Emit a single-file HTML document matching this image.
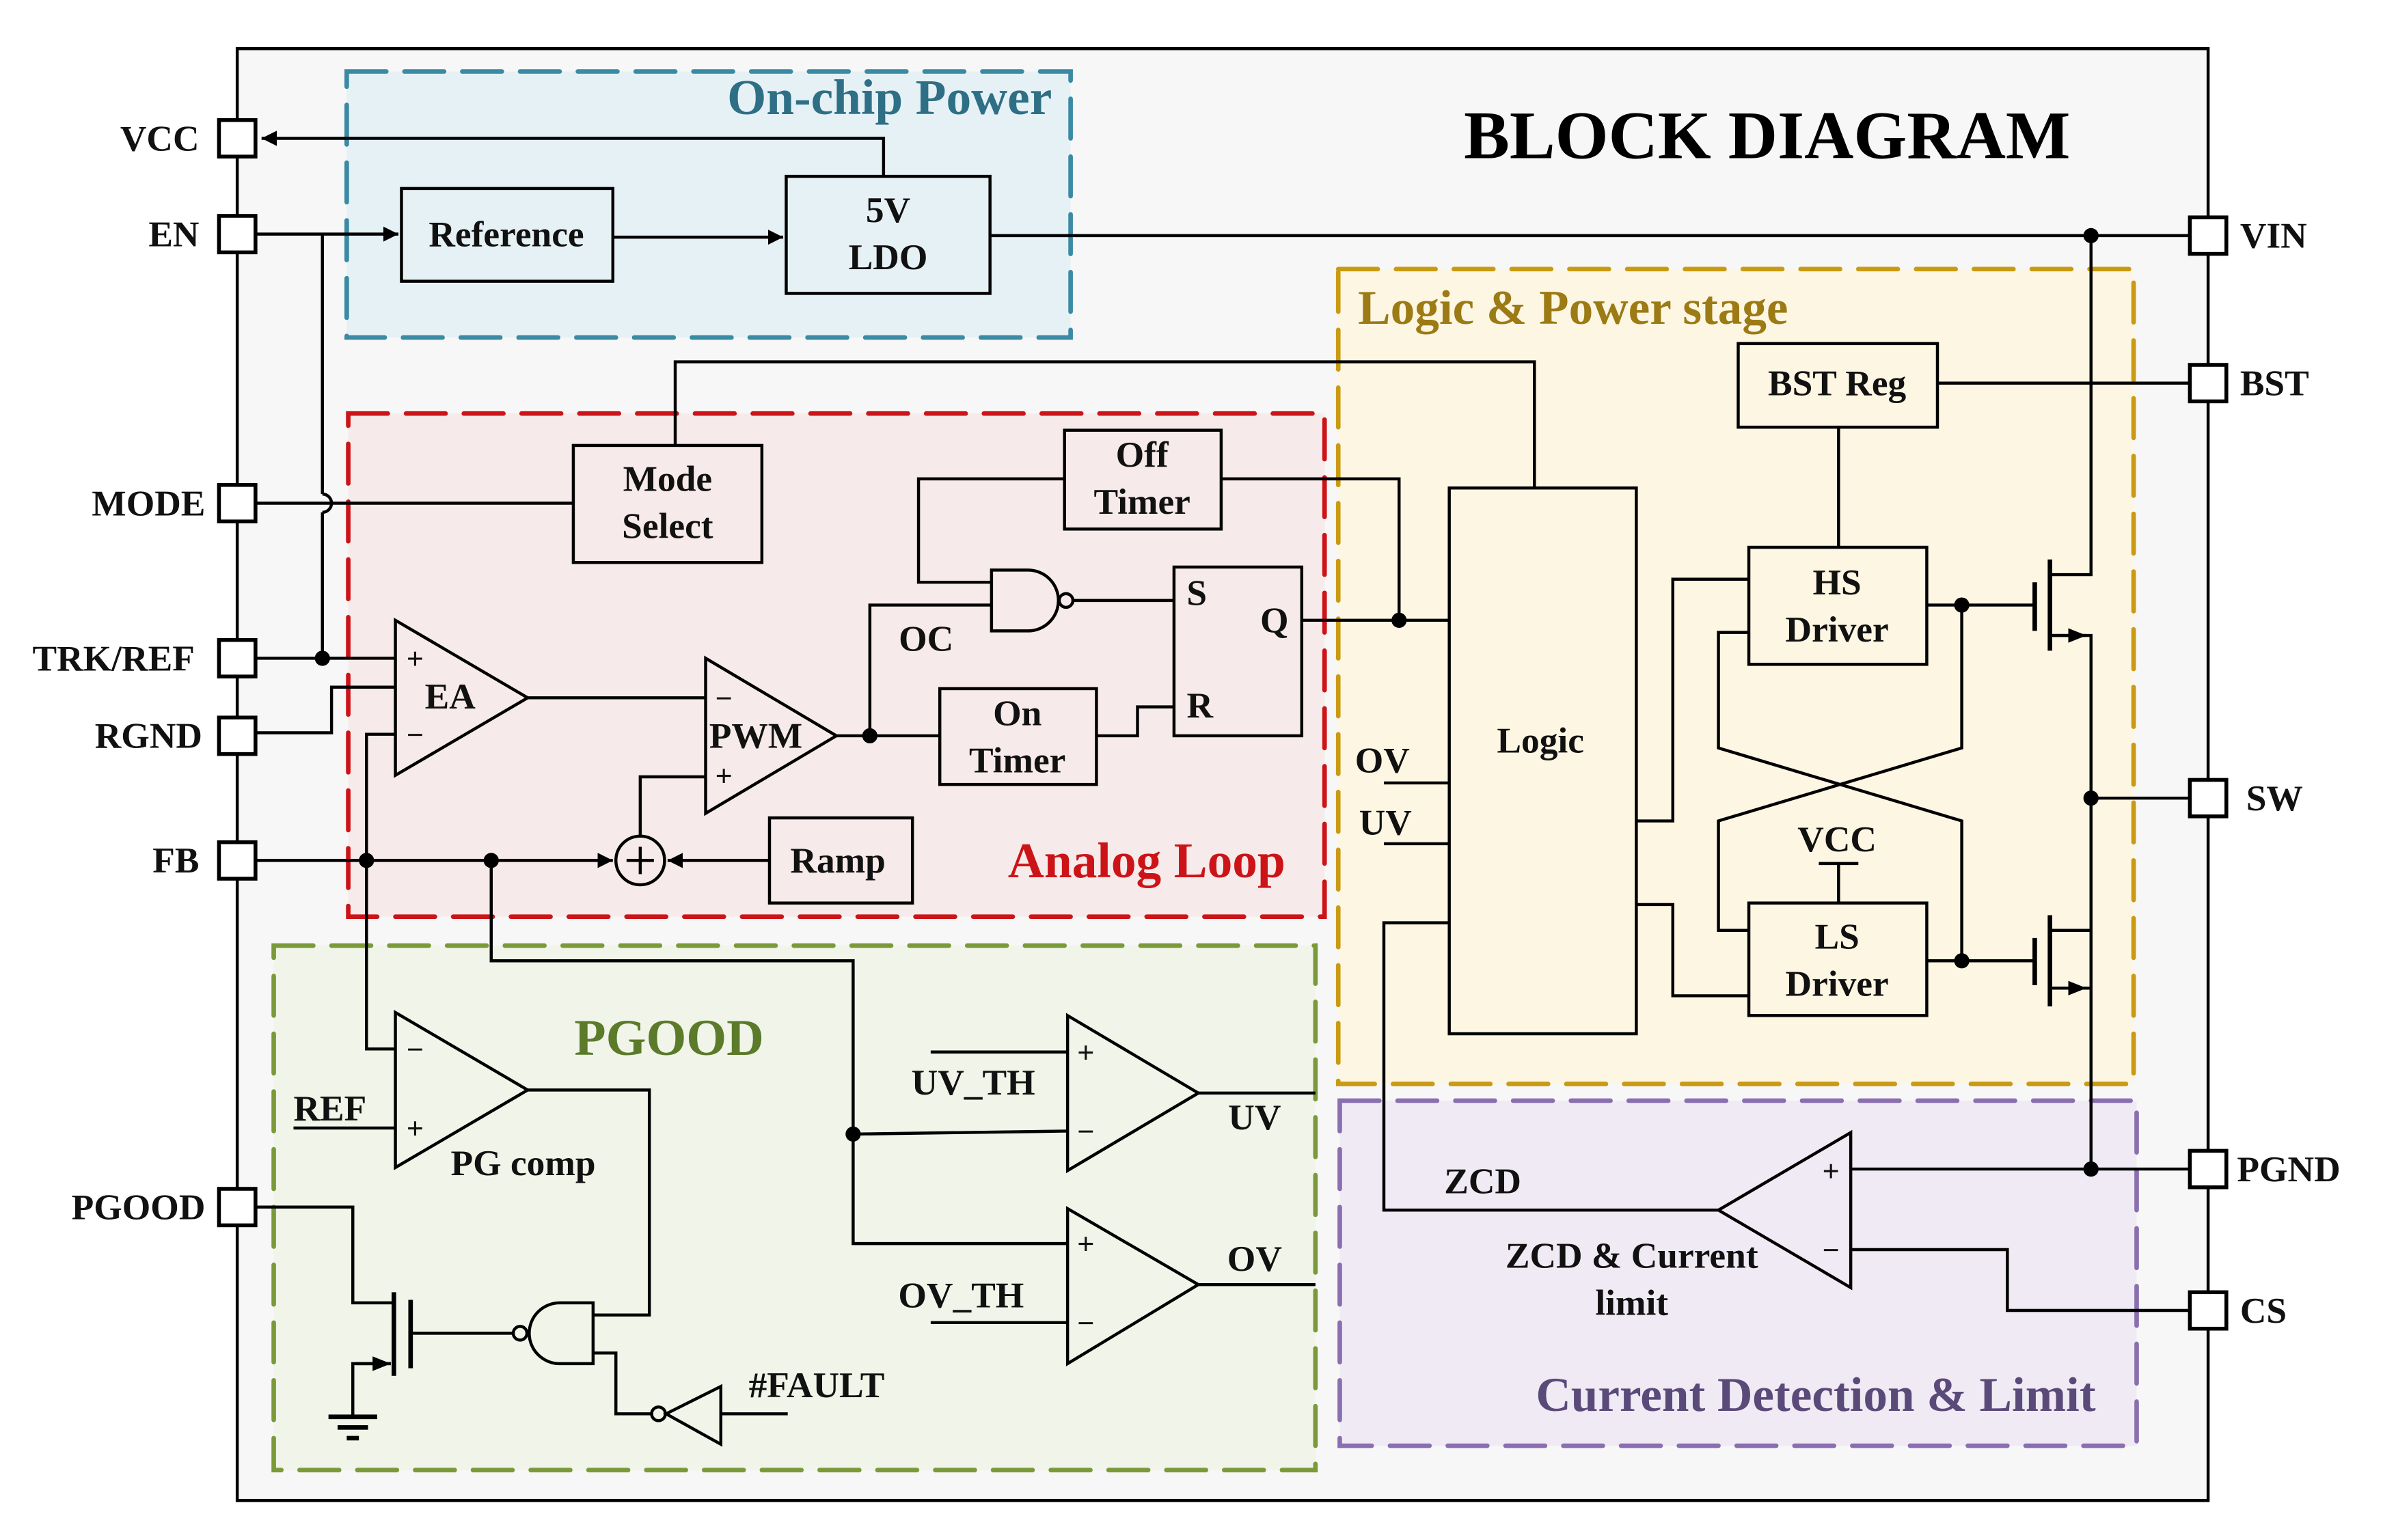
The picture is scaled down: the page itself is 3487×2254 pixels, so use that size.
<!DOCTYPE html>
<html><head><meta charset="utf-8"><style>
html,body{margin:0;padding:0;background:#fff;}
svg{display:block;}
text{font-family:"Liberation Serif",serif;font-weight:bold;fill:#111;}
</style></head><body>
<svg width="3487" height="2254" viewBox="0 0 1567 1013" preserveAspectRatio="none" xmlns="http://www.w3.org/2000/svg">
<defs>
<marker id="ar" viewBox="0 0 10 10" refX="10" refY="5" markerWidth="10" markerHeight="10" markerUnits="userSpaceOnUse" orient="auto"><path d="M0,0 L10,5 L0,10 z" fill="#000"/></marker>
<marker id="ar2" viewBox="0 0 10 10" refX="10" refY="5" markerWidth="12" markerHeight="12" markerUnits="userSpaceOnUse" orient="auto"><path d="M0,1 L10,5 L0,9 z" fill="#000"/></marker>
</defs>
<rect width="1567" height="1013" fill="#fff"/>
<rect x="156" y="32" width="1296" height="955" fill="#f7f7f7" stroke="#000" stroke-width="2"/>

<g stroke-width="3" stroke-dasharray="26,12" stroke-linecap="round">
<rect x="228" y="47" width="476" height="175" fill="#e6f1f6" stroke="#3a8aa3"/>
<rect x="229" y="272" width="642" height="331" fill="#f7eaea" stroke="#cc1418"/>
<rect x="880" y="177" width="523" height="536" fill="#fdf6e2" stroke="#c99a12"/>
<rect x="180" y="622" width="685" height="345" fill="#f1f4e8" stroke="#7a9a3a"/>
<rect x="881" y="724" width="524" height="227" fill="#efeaf3" stroke="#8a6fb0"/>
</g>
<text x="585" y="75" font-size="33" text-anchor="middle" style="fill:#2e6f85">On-chip Power</text>
<text x="1162" y="104" font-size="45" text-anchor="middle" style="fill:#000">BLOCK DIAGRAM</text>
<text x="893" y="213" font-size="32" style="fill:#9c7a14">Logic &amp; Power stage</text>
<text x="754" y="577" font-size="33" text-anchor="middle" style="fill:#cc1418">Analog Loop</text>
<text x="440" y="694" font-size="34" text-anchor="middle" style="fill:#5b7a2a">PGOOD</text>
<text x="1194" y="928" font-size="32" text-anchor="middle" style="fill:#5a4a7a">Current Detection &amp; Limit</text>

<g fill="none" stroke="#000" stroke-width="2">
<polyline points="581,116 581,91 172,91" marker-end="url(#ar)"/>
<polyline points="168,154 262,154" marker-end="url(#ar)"/>
<line x1="212" y1="154" x2="212" y2="325"/>
<path d="M212,325 A6,6 0 0 1 212,337"/>
<line x1="212" y1="337" x2="212" y2="433"/>
<line x1="168" y1="331" x2="377" y2="331"/>
<polyline points="403,156 515,156" marker-end="url(#ar)"/>
<line x1="651" y1="155" x2="1440" y2="155"/>
<polyline points="1375,155 1375,378 1348,378"/>
<line x1="1274" y1="252" x2="1440" y2="252"/>
<line x1="1209" y1="281" x2="1209" y2="360"/>
<polyline points="444,293 444,238 1009,238 1009,321"/>
<line x1="168" y1="433" x2="260" y2="433"/>
<polyline points="168,482 218,482 218,452 260,452"/>
<polyline points="168,566 403,566" marker-end="url(#ar)"/>
<polyline points="260,483 241,483 241,690 260,690"/>
<polyline points="323,566 323,632 561,632 561,818 702,818"/>
<polyline points="561,746 702,744"/>
<line x1="347" y1="459" x2="464" y2="459"/>
<polyline points="421,550 421,511 464,511"/>
<polyline points="506,566 439,566" marker-end="url(#ar)"/>
<line x1="550" y1="484" x2="618" y2="484"/>
<polyline points="572,484 572,398 652,398"/>
<polyline points="700,315 604,315 604,383 652,383"/>
<polyline points="803,315 920,315 920,408"/>
<line x1="706" y1="395" x2="772" y2="395"/>
<polyline points="721,484 748,484 748,465 772,465"/>
<line x1="856" y1="408" x2="953" y2="408"/>
<line x1="910" y1="515" x2="953" y2="515"/>
<line x1="910" y1="555" x2="953" y2="555"/>
<polyline points="1076,540 1100,540 1100,381 1150,381"/>
<polyline points="1076,595 1100,595 1100,655 1150,655"/>
<polyline points="1150,416 1130,416 1130,492 1290,540 1290,632"/>
<polyline points="1150,612 1130,612 1130,540 1290,492 1290,398"/>
<line x1="1267" y1="398" x2="1338" y2="398"/>
<line x1="1267" y1="632" x2="1338" y2="632"/>
<line x1="1209" y1="568" x2="1209" y2="594"/>
<line x1="1196" y1="568" x2="1222" y2="568"/>
<line x1="1338" y1="383" x2="1338" y2="415" stroke-width="3"/>
<line x1="1348" y1="368" x2="1348" y2="428" stroke-width="3"/>
<polyline points="1348,418 1375,418 1375,650"/>
<line x1="1350" y1="418" x2="1372" y2="418" marker-end="url(#ar2)"/>
<line x1="1338" y1="617" x2="1338" y2="648" stroke-width="3"/>
<line x1="1348" y1="602" x2="1348" y2="662" stroke-width="3"/>
<polyline points="1348,612 1375,612"/>
<polyline points="1348,650 1375,650 1375,769"/>
<line x1="1350" y1="650" x2="1372" y2="650" marker-end="url(#ar2)"/>
<line x1="1375" y1="525" x2="1440" y2="525"/>
<line x1="1217" y1="769" x2="1440" y2="769"/>
<polyline points="1440,862 1320,862 1320,822 1217,822"/>
<polyline points="1130,796 910,796 910,607 953,607"/>
<line x1="788" y1="719" x2="865" y2="719"/>
<line x1="788" y1="845" x2="865" y2="845"/>
<line x1="612" y1="692" x2="702" y2="692"/>
<line x1="612" y1="870" x2="702" y2="870"/>
<line x1="193" y1="742" x2="260" y2="742"/>
<polyline points="347,717 427,717 427,865 390,865"/>
<polyline points="390,890 405,890 405,930 428,930"/>
<line x1="474" y1="930" x2="518" y2="930"/>
<polygon points="474,912 474,950 438,930"/>
<circle cx="433" cy="930" r="4.5"/>
<path d="M390,857 L390,897 L368,897 A20,20 0 0 1 368,857 Z"/>
<circle cx="342" cy="877" r="4.5"/>
<line x1="337" y1="877" x2="270" y2="877"/>
<line x1="270" y1="855" x2="270" y2="900" stroke-width="3"/>
<line x1="259" y1="850" x2="259" y2="905" stroke-width="3"/>
<polyline points="259,857 232,857 232,794 168,794"/>
<polyline points="232,932 232,897 257,897"/>
<line x1="234" y1="897" x2="257" y2="897" marker-end="url(#ar2)"/>
<line x1="216" y1="932" x2="248" y2="932" stroke-width="3"/>
<line x1="222" y1="939" x2="242" y2="939" stroke-width="3"/>
<line x1="228" y1="946" x2="236" y2="946" stroke-width="3"/>
<path d="M652,375 L676,375 A20,20 0 0 1 676,415 L652,415 Z"/>
<circle cx="701" cy="395" r="4.5"/>
<polygon points="260,408 260,510 347,459"/>
<polygon points="464,433 464,535 550,484"/>
<polygon points="260,666 260,768 347,717"/>
<polygon points="702,668 702,770 788,719"/>
<polygon points="702,795 702,897 788,845"/>
<polygon points="1217,745 1217,847 1130,796"/>
<circle cx="421" cy="566" r="16"/>
<line x1="412" y1="566" x2="430" y2="566"/>
<line x1="421" y1="557" x2="421" y2="575"/>
<rect x="264" y="124" width="139" height="61"/>
<rect x="517" y="116" width="134" height="77"/>
<rect x="377" y="293" width="124" height="77"/>
<rect x="700" y="283" width="103" height="65"/>
<rect x="618" y="453" width="103" height="63"/>
<rect x="772" y="373" width="84" height="111"/>
<rect x="953" y="321" width="123" height="359"/>
<rect x="1143" y="226" width="131" height="55"/>
<rect x="1150" y="360" width="117" height="77"/>
<rect x="1150" y="594" width="117" height="74"/>
<rect x="506" y="538" width="94" height="56"/>
</g>
<g fill="#000">
<circle cx="212" cy="433" r="5"/><circle cx="241" cy="566" r="5"/><circle cx="323" cy="566" r="5"/>
<circle cx="572" cy="484" r="5"/><circle cx="920" cy="408" r="5"/><circle cx="561" cy="746" r="5"/>
<circle cx="1375" cy="155" r="5"/><circle cx="1375" cy="525" r="5"/><circle cx="1375" cy="769" r="5"/>
<circle cx="1290" cy="398" r="5"/><circle cx="1290" cy="632" r="5"/>
</g>
<g fill="#fff" stroke="#000" stroke-width="2.5">
<rect x="144" y="79" width="24" height="24"/><rect x="144" y="142" width="24" height="24"/>
<rect x="144" y="319" width="24" height="24"/><rect x="144" y="421" width="24" height="24"/>
<rect x="144" y="472" width="24" height="24"/><rect x="144" y="554" width="24" height="24"/>
<rect x="144" y="782" width="24" height="24"/>
<rect x="1440" y="143" width="24" height="24"/><rect x="1440" y="240" width="24" height="24"/>
<rect x="1440" y="513" width="24" height="24"/><rect x="1440" y="757" width="24" height="24"/>
<rect x="1440" y="850" width="24" height="24"/>
</g>
<g font-size="24">
<text x="131" y="99" text-anchor="end">VCC</text>
<text x="131" y="162" text-anchor="end">EN</text>
<text x="135" y="339" text-anchor="end">MODE</text>
<text x="128" y="441" text-anchor="end">TRK/REF</text>
<text x="133" y="492" text-anchor="end">RGND</text>
<text x="131" y="574" text-anchor="end">FB</text>
<text x="135" y="802" text-anchor="end">PGOOD</text>
<text x="1473" y="163">VIN</text>
<text x="1473" y="260">BST</text>
<text x="1477" y="533">SW</text>
<text x="1471" y="777">PGND</text>
<text x="1473" y="870">CS</text>
</g>
<g font-size="24" text-anchor="middle">
<text x="333" y="162">Reference</text>
<text x="584" y="146">5V</text><text x="584" y="177">LDO</text>
<text x="439" y="323">Mode</text><text x="439" y="354">Select</text>
<text x="751" y="307">Off</text><text x="751" y="338">Timer</text>
<text x="669" y="477">On</text><text x="669" y="508">Timer</text>
<text x="1208" y="260">BST Reg</text>
<text x="1208" y="391">HS</text><text x="1208" y="422">Driver</text>
<text x="1208" y="624">LS</text><text x="1208" y="655">Driver</text>
<text x="1013" y="495">Logic</text>
<text x="551" y="574">Ramp</text>
<text x="1208" y="560">VCC</text>
<text x="296" y="466">EA</text>
<text x="497" y="492">PWM</text>
<text x="609" y="428">OC</text>
<text x="787" y="398">S</text><text x="838" y="416">Q</text><text x="789" y="472">R</text>
<text x="909" y="508">OV</text><text x="911" y="549">UV</text>
<text x="825" y="743">UV</text><text x="825" y="836">OV</text>
<text x="640" y="720">UV_TH</text><text x="632" y="860">OV_TH</text>
<text x="217" y="737">REF</text>
<text x="344" y="773">PG comp</text>
<text x="537" y="919">#FAULT</text>
<text x="975" y="785">ZCD</text>
<text x="1073" y="834">ZCD &amp; Current</text>
<text x="1073" y="865">limit</text>
</g>
<g font-size="20" text-anchor="middle">
<text x="273" y="440">+</text><text x="273" y="490">−</text>
<text x="476" y="466">−</text><text x="476" y="517">+</text>
<text x="273" y="697">−</text><text x="273" y="749">+</text>
<text x="714" y="699">+</text><text x="714" y="751">−</text>
<text x="714" y="825">+</text><text x="714" y="877">−</text>
<text x="1204" y="777">+</text><text x="1204" y="829">−</text>
</g>
</svg>
</body></html>
